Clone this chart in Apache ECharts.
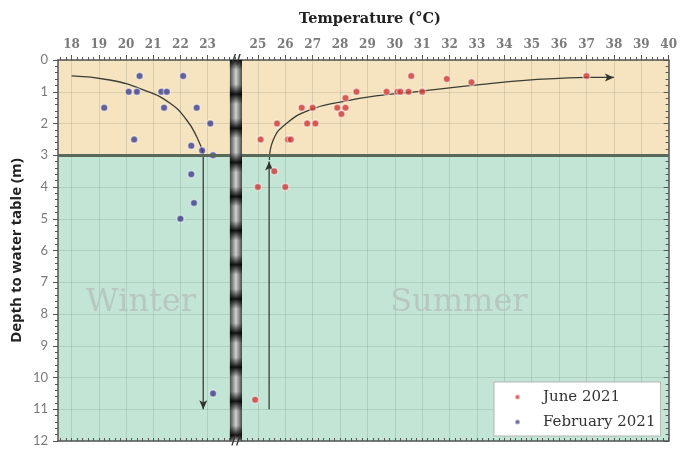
<!DOCTYPE html>
<html><head><meta charset="utf-8">
<script src="https://cdn.jsdelivr.net/npm/echarts@6/dist/echarts.min.js"></script>
<style>html,body{margin:0;padding:0;background:#fff}#c{width:680px;height:450px}</style>
</head><body><div id="c"></div>
<script>
// ---- tick labels ----
const leftTicks = [18, 19, 20, 21, 22, 23];
const rightTicks = [25, 26, 27, 28, 29, 30, 31, 32, 33, 34, 35, 36, 37, 38, 39, 40];
const depthTicks = [0, 1, 2, 3, 4, 5, 6, 7, 8, 9, 10, 11, 12];

// ---- series values [temperature °C, depth m] ----
const juneData = [
  [25.1, 2.5], [25.7, 2.0], [26.1, 2.5], [26.2, 2.5], [26.6, 1.5], [27.0, 1.5],
  [26.8, 2.0], [27.1, 2.0], [27.9, 1.5], [28.2, 1.5], [28.05, 1.7], [28.2, 1.2],
  [28.6, 1.0], [29.7, 1.0], [30.1, 1.0], [30.2, 1.0], [30.5, 1.0], [31.0, 1.0],
  [30.6, 0.5], [31.9, 0.6], [32.8, 0.7], [37.0, 0.5], [25.6, 3.5], [25.0, 4.0],
  [26.0, 4.0], [24.9, 10.7]
];
const febData = [
  [20.5, 0.5], [22.1, 0.5], [20.1, 1.0], [20.4, 1.0], [21.3, 1.0], [21.5, 1.0],
  [19.2, 1.5], [21.4, 1.5], [22.6, 1.5], [23.1, 2.0], [20.3, 2.5], [22.4, 2.7],
  [22.8, 2.85], [23.2, 3.0], [22.4, 3.6], [22.5, 4.5], [22.0, 5.0], [23.2, 10.5]
];

// ---- trend arrows (hand-drawn guides in the figure) ----
const winterCurve = [[18.0, 0.5], [19.4, 0.63], [20.64, 0.94], [21.62, 1.36], [22.23, 1.89], [22.6, 2.42], [22.84, 2.94]];
const winterDrop = [[22.84, 2.94], [22.84, 11.0]];
const summerRise = [[25.41, 11.0], [25.41, 3.2]];
const summerCurve = [[25.42, 3.15], [25.56, 2.52], [26.04, 2.0], [26.9, 1.57], [28.1, 1.31], [29.4, 1.12], [31.0, 0.98], [32.0, 0.88], [33.3, 0.76], [34.75, 0.64], [36.0, 0.58], [37.0, 0.55], [38.0, 0.55]];

const seasonLabels = [{ text: 'Winter', at: [20.55, 7.65] }, { text: 'Summer', at: [32.34, 7.63] }];
const thresholdDepth = 3;

// minor tick positions
function steps(a, b, s) { const r = []; for (let v = a; v <= b + 1e-9; v += s) r.push(+v.toFixed(2)); return r; }
const minorLeft = steps(17.6, 24.0, 0.2);
const minorRight = steps(24.6, 40, 0.2);

const LMIN = 17.5, LMAX = 24.265, RMIN = 24.42, RMAX = 40;
const STRIP_FROM = 23.82;
const BG_TOP = '#f6e3c0', BG_BOT = '#c3e5d5';
const axisColor = '#555';
const gridLine = { show: true, lineStyle: { color: 'rgba(60,80,70,0.14)', width: 1 } };

function xTop(grid, min, max, ticks, minor) {
  return [
    { gridIndex: grid, type: 'value', position: 'top', min, max,
      axisLine: { show: true, lineStyle: { color: axisColor, width: 1.5 } },
      axisTick: { show: true, inside: false, length: 5, customValues: ticks, lineStyle: { color: axisColor } },
      axisLabel: { show: true, customValues: ticks, margin: 9, color: '#7a7a7a', fontFamily: 'DejaVu Serif', fontSize: 12, fontWeight: 'bold' },
      splitLine: gridLine },
    { gridIndex: grid, type: 'value', position: 'top', min, max,
      axisLine: { show: false },
      axisTick: { show: true, inside: false, length: 3, customValues: minor, lineStyle: { color: axisColor } },
      axisLabel: { show: false }, splitLine: { show: false } },
    { gridIndex: grid, type: 'value', position: 'bottom', min, max,
      axisLine: { show: true, lineStyle: { color: axisColor, width: 1.5 } },
      axisTick: { show: true, inside: true, length: 3, customValues: minor, lineStyle: { color: axisColor } },
      axisLabel: { show: false }, splitLine: { show: false } }
  ];
}

const stripBlobs = [];
for (let k = 0; k < 12; k++) {
  const o = k * 1.075 / 12;
  if (o - 0.026 > 0) stripBlobs.push({ offset: o - 0.026, color: 'rgba(0,0,0,0)' });
  stripBlobs.push({ offset: o, color: 'rgba(0,0,0,0.9)' });
  stripBlobs.push({ offset: Math.min(1, o + 0.026), color: 'rgba(0,0,0,0)' });
}

const lineStyle = { color: '#3b3e34', width: 1.3 };

function bgSeries(xi, yi, label) {
  return {
    type: 'line', data: [], xAxisIndex: xi, yAxisIndex: yi, silent: true,
    markArea: { silent: true, z: -1, data: [
      [{ yAxis: 0, itemStyle: { color: BG_TOP } }, { yAxis: thresholdDepth }],
      [{ yAxis: thresholdDepth, itemStyle: { color: BG_BOT } }, { yAxis: 12 }]
    ] },
    markLine: { silent: true, symbol: 'none', label: { show: false },
      lineStyle: { color: '#5a685a', width: 3, type: 'solid' },
      data: [{ yAxis: thresholdDepth }] },
    markPoint: { silent: true, data: [{
      coord: label.at, symbol: 'rect', symbolSize: 1, itemStyle: { color: 'rgba(0,0,0,0)' },
      label: { show: true, position: 'inside', formatter: label.text, fontFamily: 'DejaVu Serif', fontSize: 32, color: '#b7c8c0' }
    }] }
  };
}

const chart = echarts.init(document.getElementById('c'), null, { renderer: 'canvas' });
chart.setOption({
  animation: false,
  backgroundColor: '#ffffff',
  title: { text: 'Temperature (°C)', left: 365, top: 7, textAlign: 'center',
    textStyle: { fontFamily: 'DejaVu Serif', fontWeight: 'bold', fontSize: 14.5, color: '#222' } },
  legend: {
    orient: 'vertical', left: 494, top: 382,
    data: ['June 2021', 'February 2021'],
    backgroundColor: '#ffffff', borderColor: '#b5b5b5', borderWidth: 1,
    padding: [6, 5, 5, 20], itemGap: 7, itemWidth: 5, itemHeight: 5, icon: 'circle',
    textStyle: { fontFamily: 'DejaVu Serif', fontSize: 15, color: '#333', lineHeight: 18, padding: [0, 0, 0, 18] }
  },
  grid: [
    { left: 58, top: 60, width: 184, bottom: 9, containLabel: false },
    { left: 242, top: 60, right: 7, bottom: 9, containLabel: false }
  ],
  xAxis: [].concat(xTop(0, LMIN, LMAX, leftTicks, minorLeft), xTop(1, RMIN, RMAX, rightTicks, minorRight)),
  yAxis: [
    { gridIndex: 0, type: 'value', inverse: true, min: 0, max: 12, interval: 1, position: 'left',
      name: 'Depth to water table (m)', nameLocation: 'middle', nameGap: 34,
      nameTextStyle: { fontFamily: 'Open Sans', fontWeight: 'bold', fontSize: 15, color: '#222' },
      axisLine: { show: true, lineStyle: { color: axisColor, width: 1.5 } },
      axisTick: { show: true, inside: false, length: 5, lineStyle: { color: axisColor } },
      minorTick: { show: true, splitNumber: 5, length: 3, lineStyle: { color: axisColor } },
      axisLabel: { margin: 10, color: '#7a7a7a', fontFamily: 'Lato', fontSize: 13,
        customValues: depthTicks },
      splitLine: gridLine },
    { gridIndex: 1, type: 'value', inverse: true, min: 0, max: 12, interval: 1, position: 'left',
      axisLine: { show: false }, axisTick: { show: false }, axisLabel: { show: false },
      splitLine: gridLine },
    { gridIndex: 1, type: 'value', inverse: true, min: 0, max: 12, interval: 1, position: 'right',
      axisLine: { show: true, lineStyle: { color: axisColor, width: 1.5 } },
      axisTick: { show: true, inside: true, length: 5, lineStyle: { color: axisColor } },
      minorTick: { show: true, splitNumber: 5, length: 3, lineStyle: { color: axisColor } },
      axisLabel: { show: false }, splitLine: { show: false } }
  ],
  series: [
    bgSeries(0, 0, seasonLabels[0]),
    bgSeries(3, 1, seasonLabels[1]),
    { type: 'line', data: [], xAxisIndex: 0, yAxisIndex: 0, silent: true,
      markArea: { silent: true, z: 10, data: [
        [{ xAxis: STRIP_FROM, yAxis: 0, itemStyle: { color: { type: 'linear', x: 0, y: 0, x2: 1, y2: 0, colorStops: [
          { offset: 0, color: '#4a4a4a' }, { offset: 0.25, color: '#8e8e8e' }, { offset: 0.5, color: '#d0d0d0' },
          { offset: 0.75, color: '#8e8e8e' }, { offset: 1, color: '#4a4a4a' }] } } }, { xAxis: LMAX, yAxis: 12 }],
        [{ xAxis: STRIP_FROM, yAxis: 0, itemStyle: { color: { type: 'linear', x: 0, y: 0, x2: 0, y2: 1, colorStops: stripBlobs } } }, { xAxis: LMAX, yAxis: 12 }]
      ] },
      markPoint: { silent: true, z: 11, symbol: 'rect', symbolSize: 1, itemStyle: { color: 'rgba(0,0,0,0)' },
        label: { show: true, position: 'inside', formatter: '//', fontFamily: 'DejaVu Sans', fontWeight: 'bold', fontSize: 13, color: '#333' },
        data: [{ coord: [24.04, 0] }, { coord: [24.04, 12] }] }
    },
    { type: 'line', name: 'winterCurve', data: winterCurve, xAxisIndex: 0, yAxisIndex: 0, smooth: 0.5,
      symbol: 'none', lineStyle, silent: true, z: 3 },
    { type: 'line', name: 'winterDrop', xAxisIndex: 0, yAxisIndex: 0, symbol: 'none', lineStyle, silent: true, z: 3,
      data: [winterDrop[0], { value: winterDrop[1], symbol: 'arrow', symbolSize: [6, 9], symbolRotate: 180, itemStyle: { color: '#2f312a' } }] },
    { type: 'line', name: 'summerRise', xAxisIndex: 3, yAxisIndex: 1, symbol: 'none', lineStyle, silent: true, z: 3,
      data: [summerRise[0], { value: summerRise[1], symbol: 'arrow', symbolSize: [6, 9], symbolRotate: 0, itemStyle: { color: '#2f312a' } }] },
    { type: 'line', name: 'summerCurve', xAxisIndex: 3, yAxisIndex: 1, smooth: 0.5, symbol: 'none', lineStyle, silent: true, z: 3,
      data: summerCurve.slice(0, -1).concat([{ value: summerCurve[summerCurve.length - 1], symbol: 'arrow', symbolSize: [6, 9], symbolRotate: -90, itemStyle: { color: '#2f312a' } }]) },
    { type: 'scatter', name: 'February 2021', data: febData, xAxisIndex: 0, yAxisIndex: 0, z: 4,
      symbolSize: 7, itemStyle: { color: '#3d3f8c', borderColor: 'rgba(255,255,255,0.6)', borderWidth: 1.5 } },
    { type: 'scatter', name: 'June 2021', data: juneData, xAxisIndex: 3, yAxisIndex: 1, z: 4,
      symbolSize: 7, itemStyle: { color: '#cc3b37', borderColor: 'rgba(255,255,255,0.6)', borderWidth: 1.5 } }
  ]
});
</script></body></html>
